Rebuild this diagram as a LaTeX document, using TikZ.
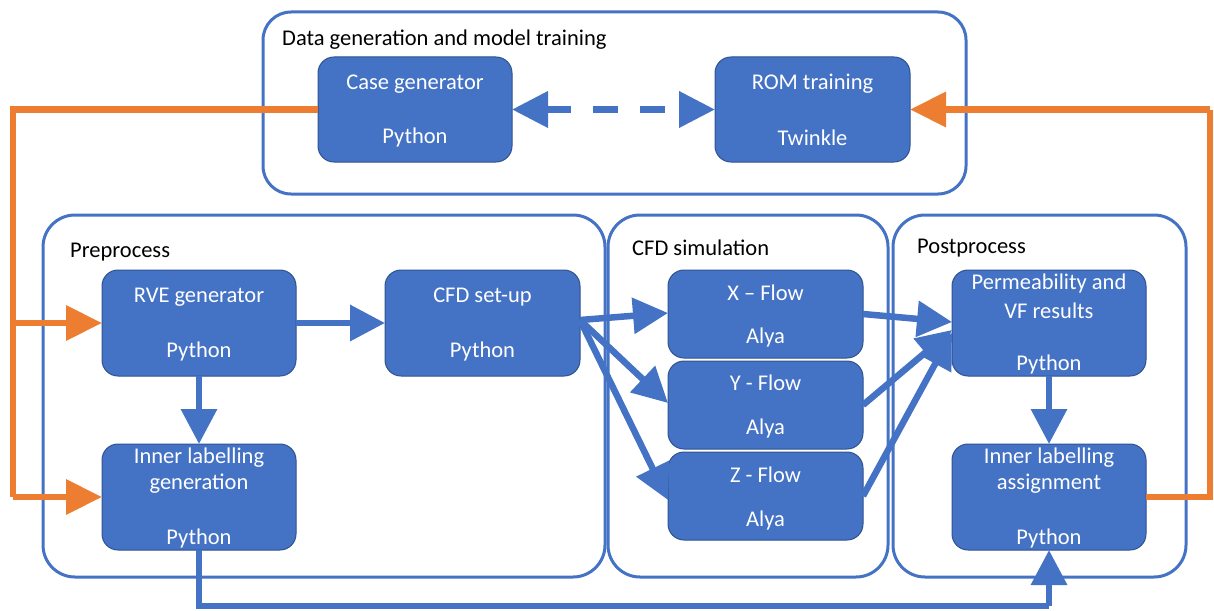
\documentclass[tikz,border=0pt]{standalone}
\usepackage{fontspec}
\setmainfont{Carlito}
\usetikzlibrary{arrows.meta,calc}
\definecolor{bblue}{HTML}{4472C4}
\definecolor{bdark}{HTML}{2F528F}
\definecolor{oorange}{HTML}{ED7D31}
\tikzset{
  container/.style={draw=bblue, line width=3pt, rounded corners=32pt, fill=none},
  procbox/.style={draw=bdark, line width=1pt, fill=bblue, rounded corners=16pt, inner sep=0pt, outer sep=0pt},
  boxtext/.style={text=white, font=\fontsize{22.5}{26}\selectfont, inner sep=0pt, anchor=center},
  grouptext/.style={text=black, font=\fontsize{22.5}{26}\selectfont, inner sep=0pt, anchor=west},
  bluearrow/.style={draw=bblue, line width=6.5pt, -{Triangle[length=35pt,width=35pt]}},
  blueline/.style={draw=bblue, line width=6.5pt},
  dasharrow/.style={draw=bblue, line width=7pt, dash pattern=on 25pt off 22pt, {Triangle[length=36pt,width=35pt]}-{Triangle[length=36pt,width=35pt]}},
  orangeline/.style={draw=oorange, line width=6.5pt},
  orangearrow/.style={draw=oorange, line width=6.5pt, -{Triangle[length=36pt,width=34pt]}},
}
\begin{document}
\begin{tikzpicture}[x=1pt,y=-1pt]
\useasboundingbox (0,0) rectangle (1214,610);
% containers
\draw[container, rounded corners=28pt] (263,12) rectangle (966,194);
\draw[container] (43,215) rectangle (605,577);
\draw[container] (608,215) rectangle (888,577);
\draw[container] (893,215) rectangle (1186,577);
\node[grouptext] (tdata) at (282,40) {Data generation and model training};
\node[grouptext] (tpre) at (70,252) {Preprocess};
\node[grouptext] (tcfd) at (632,248) {CFD simulation};
\node[grouptext] (tpost) at (917,248) {Postprocess};
% boxes
\node[procbox, minimum width=194pt, minimum height=105pt] (case) at (415,109.5) {};
\node[procbox, minimum width=195pt, minimum height=105pt] (rom) at (812.5,109.5) {};
\node[procbox, minimum width=194pt, minimum height=106pt] (rve) at (199,323) {};
\node[procbox, minimum width=195pt, minimum height=106pt] (cfd) at (482.5,323) {};
\node[procbox, minimum width=194pt, minimum height=106pt] (ilg) at (199,497) {};
\node[procbox, minimum width=195pt, minimum height=88pt] (xf) at (765.5,314) {};
\node[procbox, minimum width=195pt, minimum height=88pt] (yf) at (765.5,405) {};
\node[procbox, minimum width=195pt, minimum height=88pt] (zf) at (765.5,496) {};
\node[procbox, minimum width=194pt, minimum height=106pt] (perm) at (1049,323) {};
\node[procbox, minimum width=194pt, minimum height=106pt] (ila) at (1049,497) {};
% box texts
\node[boxtext] (case1) at (415,84) {Case generator};
\node[boxtext] (case2) at (415,138) {Python};
\node[boxtext] (rom1) at (812.5,84) {ROM training};
\node[boxtext] (rom2) at (812.5,138) {Twinkle};
\node[boxtext] (rve1) at (199,297) {RVE generator};
\node[boxtext] (rve2) at (199,351) {Python};
\node[boxtext] (cfd1) at (482.5,297) {CFD set-up};
\node[boxtext] (cfd2) at (482.5,351) {Python};
\node[boxtext] (ilg1) at (199,458) {Inner labelling};
\node[boxtext] (ilg2) at (199,484) {generation};
\node[boxtext] (ilg3) at (199,538) {Python};
\node[boxtext] (xf1) at (765.5,293) {X – Flow};
\node[boxtext] (xf2) at (765.5,337) {Alya};
\node[boxtext] (yf1) at (765.5,383) {Y - Flow};
\node[boxtext] (yf2) at (765.5,428) {Alya};
\node[boxtext] (zf1) at (765.5,475) {Z - Flow};
\node[boxtext] (zf2) at (765.5,520) {Alya};
\node[boxtext] (perm1) at (1049,283) {Permeability and};
\node[boxtext] (perm2) at (1049,311) {VF results};
\node[boxtext] (perm3) at (1049,364) {Python};
\node[boxtext] (ila1) at (1049,458) {Inner labelling};
\node[boxtext] (ila2) at (1049,484) {assignment};
\node[boxtext] (ila3) at (1049,538) {Python};
% coordinates for free corners
\coordinate (oTL) at (13,109.5);
\coordinate (oJ1) at (13,323);
\coordinate (oBL) at (13,497);
\coordinate (oBR) at (1210,497);
\coordinate (oTR) at (1210,109.5);
\coordinate (bL) at (199,606);
\coordinate (bR) at (1049,606);
% connectors
\draw[dasharrow] (case.east) -- (rom.west);
\draw[orangeline] (case.west) -- (oTL) -- (oBL);
\draw[orangearrow] (oJ1) -- (rve.west);
\draw[orangearrow] (oBL) -- (ilg.west);
\draw[orangeline, line join=miter] (ila.east) -- (oBR) -- (oTR);
\draw[orangearrow] (oTR) -- (rom.east);
\draw[bluearrow] (rve.east) -- (cfd.west);
\draw[bluearrow] (rve.south) -- (ilg.north);
\draw[bluearrow] (perm.south) -- (ila.north);
\draw[blueline] (ilg.south) -- (bL) -- (bR);
\draw[bluearrow] (bR) -- (ila.south);
\draw[bluearrow] ([yshift=3pt]cfd.east) -- ([yshift=1pt]xf.west);
\draw[bluearrow] ([yshift=3pt]cfd.east) -- ([yshift=2pt]yf.west);
\draw[bluearrow] ([yshift=3pt]cfd.east) -- ([yshift=-4pt]zf.west);
\draw[bluearrow] (xf.east) -- ([yshift=1pt]perm.west);
\draw[bluearrow] (yf.east) -- ([yshift=-7pt]perm.west);
\draw[bluearrow] (zf.east) -- ([yshift=-10pt]perm.west);
\end{tikzpicture}
\end{document}
